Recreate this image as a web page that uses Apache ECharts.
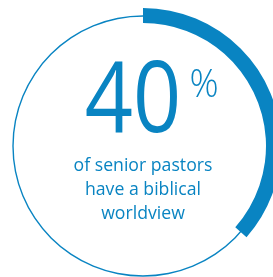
<!DOCTYPE html>
<html><head><meta charset="utf-8">
<script src="https://cdn.jsdelivr.net/npm/echarts@6/dist/echarts.min.js"></script>
<style>html,body{margin:0;padding:0;background:#fff}#c{width:273px;height:277px}</style>
</head><body><div id="c"></div>
<script>
// Data
const categories = ['Biblical worldview', 'Other'];
const arcValues = [36.5, 63.5];        // share of ring drawn as thick arc
const headlineValue = '40';
const headlineUnit = '%';
const subtitleLines = ['of senior pastors', 'have a biblical', 'worldview'];

const BLUE = '#0984C2';
const FONT = '"Open Sans", sans-serif';
const cx = 143, cy = 146;

const chart = echarts.init(document.getElementById('c'), null, {renderer: 'canvas'});
const subtitleGraphics = subtitleLines.map((t, i) => ({
  type: 'text', x: cx, y: 166 + i * 24, scaleX: 0.93,
  style: {text: t, fill: BLUE, font: '19px ' + FONT, align: 'center', verticalAlign: 'middle'}
}));
chart.setOption({
  animation: false,
  series: [
    {
      type: 'pie', center: [cx, cy], radius: [129.3, 130.7], silent: true,
      label: {show: false}, labelLine: {show: false},
      itemStyle: {color: BLUE},
      data: [{name: 'ring', value: 1}]
    },
    {
      type: 'pie', center: [cx, cy], radius: [123, 138], startAngle: 90, clockwise: true,
      silent: true, label: {show: false}, labelLine: {show: false},
      data: categories.map((n, i) => ({
        name: n, value: arcValues[i],
        itemStyle: {color: i === 0 ? BLUE : 'rgba(0,0,0,0)'}
      }))
    }
  ],
  graphic: [
    {
      type: 'text', x: 133, y: 104, scaleX: 0.86,
      style: {text: headlineValue, fill: BLUE, font: '98px ' + FONT, align: 'center', verticalAlign: 'middle'}
    },
    {
      type: 'text', x: 204, y: 86, scaleX: 0.95,
      style: {text: headlineUnit, fill: BLUE, font: '300 38px ' + FONT, align: 'center', verticalAlign: 'middle'}
    }
  ].concat(subtitleGraphics)
});
</script></body></html>
